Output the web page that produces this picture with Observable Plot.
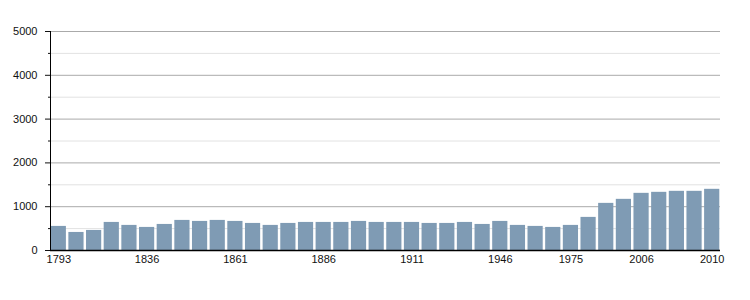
<!DOCTYPE html>
<html>
<head>
<meta charset="utf-8">
<script src="https://cdn.jsdelivr.net/npm/d3@7"></script>
<script src="https://cdn.jsdelivr.net/npm/@observablehq/plot@0.6"></script>
<style>
  html, body { margin: 0; padding: 0; background: #fff; }
  #chart svg { display: block; }
</style>
</head>
<body>
<div id="chart"></div>
<script>
const years = ["1793","1800","1806","1821","1831","1836","1841","1846","1851","1856",
  "1861","1866","1872","1876","1881","1886","1891","1896","1901","1906",
  "1911","1921","1926","1931","1936","1946","1954","1962","1968","1975",
  "1982","1990","1999","2006","2007","2008","2009","2010"];
const population = [550,412,458,641,573,527,595,687,664,687,
  664,618,573,618,641,641,641,664,641,641,
  641,618,618,641,595,664,573,550,527,573,
  756,1076,1168,1305,1328,1351,1351,1397];
const xTickLabels = ["1793","1836","1861","1886","1911","1946","1975","2006","2010"];
const yMajor = [0,1000,2000,3000,4000,5000];
const yMinor = [500,1500,2500,3500,4500];

const data = years.map((y, i) => ({year: y, pop: population[i]}));

const chart = Plot.plot({
  width: 750,
  height: 300,
  marginLeft: 50,
  marginRight: 30,
  marginTop: 31,
  marginBottom: 50,
  style: {fontFamily: "'Liberation Sans', Arial, sans-serif", fontSize: "11px", color: "#111", background: "#fff"},
  x: {type: "band", domain: years, paddingInner: 0.14, paddingOuter: 0.04, round: false},
  y: {domain: [0, 5000]},
  marks: [
    Plot.ruleY(yMinor, {stroke: "#e2e2e2", strokeWidth: 1}),
    Plot.ruleY(yMajor.filter(d => d > 0), {stroke: "#aaaaaa", strokeWidth: 1}),
    Plot.barY(data, {x: "year", y: "pop", fill: "#7f9bb4"}),
    Plot.axisY({ticks: yMajor, tickSize: 5, tickPadding: 8, label: null, tickFormat: d => String(d), fill: "#111"}),
    Plot.axisY({ticks: yMinor, tickSize: 2, tickFormat: () => "", label: null}),
    Plot.axisX({ticks: xTickLabels, tickSize: 0, tickPadding: 5, label: null, fill: "#111"}),
    Plot.frame({anchor: "left", stroke: "#000"}),
    Plot.ruleY([0], {stroke: "#000", strokeWidth: 1.5})
  ]
});
document.getElementById("chart").appendChild(chart);
</script>
</body>
</html>
